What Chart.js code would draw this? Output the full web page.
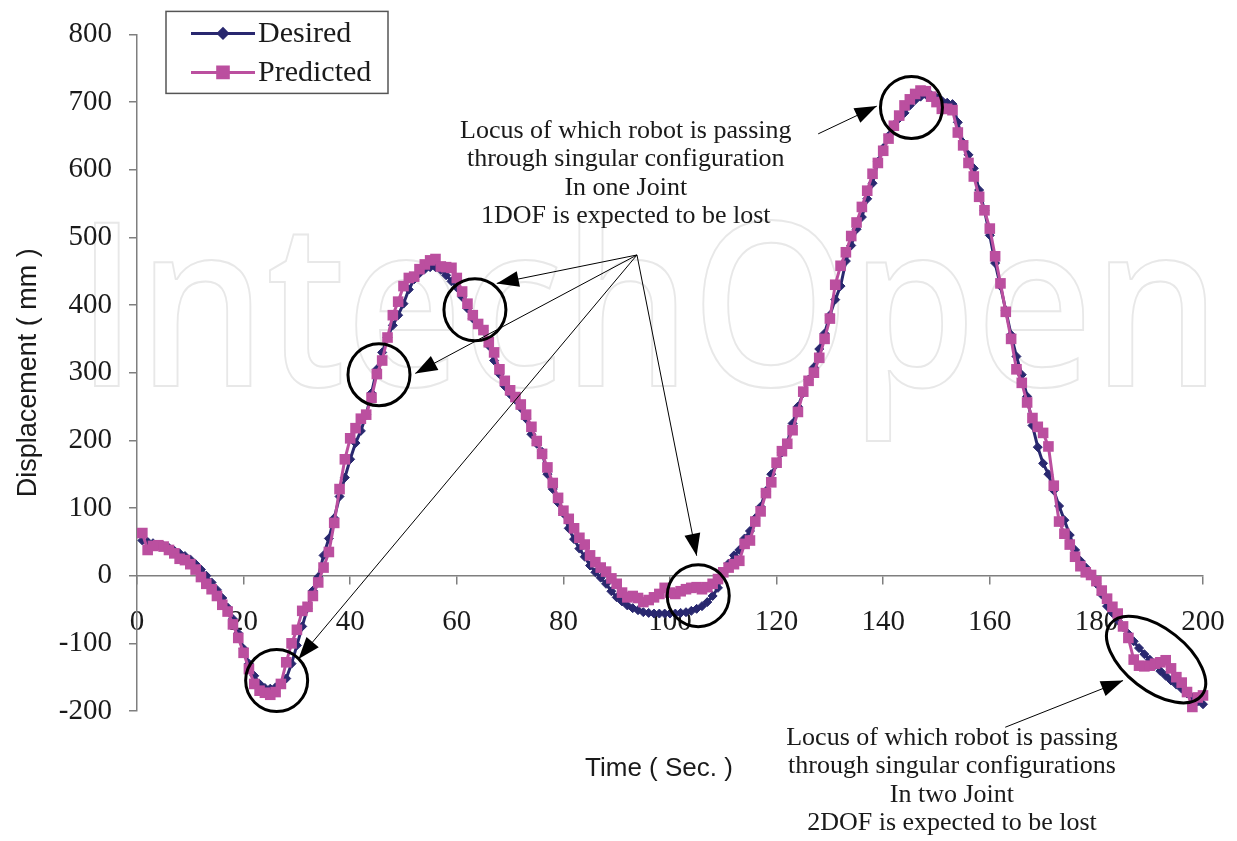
<!DOCTYPE html>
<html lang="en">
<head>
<meta charset="UTF-8">
<title>Displacement - Desired vs Predicted</title>
<script src="https://cdn.jsdelivr.net/npm/chart.js@4.4.0/dist/chart.umd.min.js"></script>
<style>
  html, body { margin: 0; padding: 0; background: #fff; }
  #wrap { width: 1237px; height: 841px; position: relative; }
</style>
</head>
<body>
<div id="wrap"><canvas id="chart" width="1237" height="841"></canvas></div>
<script>
// time samples (sec.)
const TIME = [
  1, 2, 3, 4, 5, 6, 7, 8, 9, 10, 11, 12, 13, 14, 15, 16, 17, 18, 19, 20,
  21, 22, 23, 24, 25, 26, 27, 28, 29, 30, 31, 32, 33, 34, 35, 36, 37, 38, 39, 40,
  41, 42, 43, 44, 45, 46, 47, 48, 49, 50, 51, 52, 53, 54, 55, 56, 57, 58, 59, 60,
  61, 62, 63, 64, 65, 66, 67, 68, 69, 70, 71, 72, 73, 74, 75, 76, 77, 78, 79, 80,
  81, 82, 83, 84, 85, 86, 87, 88, 89, 90, 91, 92, 93, 94, 95, 96, 97, 98, 99, 100,
  101, 102, 103, 104, 105, 106, 107, 108, 109, 110, 111, 112, 113, 114, 115, 116, 117, 118, 119, 120,
  121, 122, 123, 124, 125, 126, 127, 128, 129, 130, 131, 132, 133, 134, 135, 136, 137, 138, 139, 140,
  141, 142, 143, 144, 145, 146, 147, 148, 149, 150, 151, 152, 153, 154, 155, 156, 157, 158, 159, 160,
  161, 162, 163, 164, 165, 166, 167, 168, 169, 170, 171, 172, 173, 174, 175, 176, 177, 178, 179, 180,
  181, 182, 183, 184, 185, 186, 187, 188, 189, 190, 191, 192, 193, 194, 195, 196, 197, 198, 199, 200
];

// displacement (mm)
const DESIRED = [
  52, 50, 48, 46, 44, 41, 37, 33, 29, 24,
  17, 9, 0, -10, -21, -33, -47, -64, -85, -108,
  -130, -148, -160, -166, -167, -165, -160, -152, -130, -103,
  -75, -48, -22, -2, 30, 55, 85, 117, 145, 172,
  196, 214, 238, 270, 305, 330, 352, 370, 385, 402,
  423, 438, 447, 453, 456, 456, 452, 444, 435, 426,
  412, 395, 380, 372, 362, 340, 318, 298, 280, 268,
  260, 248, 232, 209, 195, 183, 150, 128, 108, 92,
  70, 54, 40, 28, 15, 5, -3, -12, -23, -32,
  -38, -44, -48, -51, -54, -55, -56, -56, -56, -56,
  -56, -55, -54, -52, -49, -45, -39, -30, -18, 5,
  18, 30, 38, 55, 66, 85, 102, 125, 150, 165,
  182, 196, 225, 250, 270, 290, 308, 335, 358, 385,
  408, 428, 465, 488, 512, 530, 557, 580, 612, 632,
  650, 666, 676, 684, 695, 703, 708, 711, 710, 706,
  702, 699, 697, 670, 640, 622, 602, 570, 540, 503,
  462, 428, 392, 356, 324, 297, 265, 222, 190, 166,
  150, 126, 103, 82, 60, 38, 22, 12, 2, -12,
  -28, -45, -55, -66, -76, -86, -97, -107, -116, -124,
  -132, -141, -148, -155, -161, -167, -174, -180, -186, -190
];

const PREDICTED = [
  63, 38, 44, 45, 43, 38, 33, 25, 23, 17,
  9, -2, -12, -20, -30, -43, -53, -72, -92, -114,
  -138, -160, -170, -173, -176, -172, -160, -128, -100, -80,
  -52, -46, -30, -10, 12, 35, 78, 128, 172, 203,
  218, 232, 238, 263, 298, 318, 352, 385, 405, 428,
  440, 442, 453, 460, 466, 468, 457, 456, 455, 440,
  420, 402, 385, 372, 363, 345, 330, 305, 288, 274,
  264, 253, 238, 220, 199, 180, 160, 137, 115, 96,
  84, 70, 56, 46, 30, 20, 12, 6, -4, -12,
  -25, -32, -30, -33, -39, -36, -32, -27, -18, -25,
  -27, -23, -20, -18, -17, -20, -17, -12, -5, 5,
  12, 17, 22, 47, 52, 80, 95, 122, 138, 167,
  184, 195, 215, 242, 272, 288, 300, 322, 350, 380,
  430, 458, 478, 502, 522, 545, 569, 594, 610, 628,
  646, 665, 680, 695, 704, 712, 717, 716, 708, 700,
  690, 690, 688, 655, 636, 610, 590, 560, 540, 513,
  472, 432, 390, 350, 305, 285, 256, 233, 220, 211,
  191, 133, 80, 62, 46, 28, 14, 5, 1, -8,
  -22, -34, -46, -56, -75, -92, -124, -133, -134, -133,
  -130, -128, -125, -137, -150, -158, -172, -194, -180, -177
];

const SERIES_NAMES = ['Desired', 'Predicted'];
const X_TITLE = 'Time ( Sec. )';
const Y_TITLE = 'Displacement ( mm )';

// annotation anchors, in data units (time, mm)
const CIRCLES = [[26.2, -155], [45.4, 297], [63.4, 393], [105.3, -29.5], [145.3, 692]];
const ELLIPSE = [191.2, -124];
const HUB = [93.8, 474];
const HUB_TARGETS = [[67.5, 432], [52.2, 299], [30.3, -123], [105, 29.5]];
const ARROWS = [[[127.8, 653], [138.8, 694]], [[162.9, -224], [185, -155]]];
const NOTE_1 = ['Locus of which robot is passing', 'through singular configuration', 'In one Joint', '1DOF is expected to be lost'];
const NOTE_1_AT = [91.7, 657];
const NOTE_2 = ['Locus of which robot is passing', 'through singular configurations', 'In two Joint', '2DOF is expected to be lost'];
const NOTE_2_AT = [152.9, -240];

const NAVY = '#29286f';
const PINK = '#bb4f9f';
const SERIF = '"Liberation Serif", "Times New Roman", serif';
const SANS = '"Liberation Sans", Arial, sans-serif';

function arrow(ctx, x1, y1, x2, y2) {
  const a = Math.atan2(y2 - y1, x2 - x1);
  ctx.beginPath();
  ctx.moveTo(x1, y1);
  ctx.lineTo(x2, y2);
  ctx.stroke();
  const L = 22, W = 8;
  ctx.beginPath();
  ctx.moveTo(x2, y2);
  ctx.lineTo(x2 - L * Math.cos(a) + W * Math.sin(a), y2 - L * Math.sin(a) - W * Math.cos(a));
  ctx.lineTo(x2 - L * Math.cos(a) - W * Math.sin(a), y2 - L * Math.sin(a) + W * Math.cos(a));
  ctx.closePath();
  ctx.fill();
}

const extras = {
  id: 'extras',
  beforeDraw(chart) {
    // faint publisher watermark, behind everything
    const ctx = chart.ctx;
    ctx.save();
    ctx.font = '600 228px "Open Sans", sans-serif';
    ctx.strokeStyle = '#e8e8e8';
    ctx.lineWidth = 2;
    const w = ctx.measureText('IntechOpen').width;
    ctx.translate(76, 386);
    ctx.scale(1145 / w, 1);
    ctx.strokeText('IntechOpen', 0, 0);
    ctx.restore();
  },
  afterDraw(chart) {
    const ctx = chart.ctx;
    const xs = chart.scales.x, ys = chart.scales.y;
    const px = p => [xs.getPixelForValue(p[0]), ys.getPixelForValue(p[1])];
    const area = chart.chartArea;
    ctx.save();

    // circles
    ctx.strokeStyle = '#000';
    ctx.lineWidth = 3;
    CIRCLES.forEach(c => {
      const [x, y] = px(c);
      ctx.beginPath();
      ctx.arc(x, y, 31, 0, Math.PI * 2);
      ctx.stroke();
    });
    const [ex, ey] = px(ELLIPSE);
    ctx.beginPath();
    ctx.ellipse(ex, ey, 58, 31, 38 * Math.PI / 180, 0, Math.PI * 2);
    ctx.stroke();

    // arrows
    ctx.lineWidth = 1;
    ctx.fillStyle = '#000';
    const [hx, hy] = px(HUB);
    HUB_TARGETS.forEach(t => {
      const [tx, ty] = px(t);
      arrow(ctx, hx, hy, tx, ty);
    });
    ARROWS.forEach(a => {
      const [x1, y1] = px(a[0]);
      const [x2, y2] = px(a[1]);
      arrow(ctx, x1, y1, x2, y2);
    });

    // notes
    ctx.font = '26px ' + SERIF;
    ctx.fillStyle = '#1a1a1a';
    ctx.textAlign = 'center';
    ctx.textBaseline = 'middle';
    [[NOTE_1, NOTE_1_AT], [NOTE_2, NOTE_2_AT]].forEach(([lines, at]) => {
      const [nx, ny] = px(at);
      lines.forEach((s, i) => ctx.fillText(s, nx, ny + i * 28.5));
    });

    // x axis title
    ctx.font = '26px ' + SANS;
    ctx.fillText(X_TITLE, (area.left + area.right) / 2 - 11, area.bottom + 58);

    // legend box
    const lx = area.left + 29, ly = area.top - 23;
    ctx.strokeStyle = '#555';
    ctx.lineWidth = 1.5;
    ctx.strokeRect(lx, ly, 222, 82);
    const items = [[NAVY, 'rectRot', 4.5], [PINK, 'rect', 7.5]];
    items.forEach(([col, style, r], i) => {
      const y = ly + 22 + i * 39;
      ctx.strokeStyle = col;
      ctx.fillStyle = col;
      ctx.lineWidth = 3;
      ctx.beginPath();
      ctx.moveTo(lx + 25, y);
      ctx.lineTo(lx + 89, y);
      ctx.stroke();
      Chart.helpers.drawPoint(ctx, { pointStyle: style, radius: r, borderWidth: 1 }, lx + 57, y);
      ctx.fillStyle = '#1a1a1a';
      ctx.textAlign = 'left';
      ctx.font = '30px ' + SERIF;
      ctx.fillText(SERIES_NAMES[i], lx + 92, y + 1);
    });
    ctx.restore();
  }
};

const toPoints = vals => TIME.map((t, i) => ({ x: t, y: vals[i] }));

new Chart(document.getElementById('chart'), {
  type: 'line',
  data: {
    datasets: [
      {
        label: SERIES_NAMES[0],
        data: toPoints(DESIRED),
        borderColor: NAVY,
        backgroundColor: NAVY,
        borderWidth: 3,
        pointStyle: 'rectRot',
        pointRadius: 4.5,
        pointBorderWidth: 1,
        tension: 0,
        clip: false,
        order: 1
      },
      {
        label: SERIES_NAMES[1],
        data: toPoints(PREDICTED),
        borderColor: PINK,
        backgroundColor: PINK,
        borderWidth: 3,
        pointStyle: 'rect',
        pointRadius: 7.5,
        pointBorderWidth: 0,
        tension: 0,
        clip: false,
        order: 0
      }
    ]
  },
  options: {
    responsive: false,
    animation: false,
    events: [],
    layout: { padding: { left: 0, right: 34, top: 32, bottom: 130 } },
    plugins: { legend: { display: false }, tooltip: { enabled: false } },
    scales: {
      x: {
        type: 'linear',
        position: { y: 0 },
        min: 0, max: 200,
        afterFit: s => { s.height = 0; s.paddingRight = 0; s.paddingLeft = 0; },
        ticks: {
          stepSize: 20, autoSkip: false, maxRotation: 0, padding: 21,
          color: '#1a1a1a', font: { family: SERIF, size: 29 }
        },
        grid: { drawOnChartArea: false, drawTicks: true, tickLength: 8, color: '#7f7f7f', lineWidth: 1.5 },
        border: { color: '#7f7f7f', width: 1.5 }
      },
      y: {
        min: -200, max: 800,
        afterFit: s => { s.width = 137; },
        ticks: {
          stepSize: 100, padding: 17,
          color: '#1a1a1a', font: { family: SERIF, size: 29 }
        },
        title: {
          display: true, text: Y_TITLE, color: '#1a1a1a',
          font: { family: SANS, size: 27 }, padding: { top: 12, bottom: 0 }
        },
        grid: { drawOnChartArea: false, drawTicks: true, tickLength: 8, color: '#7f7f7f', lineWidth: 1.5 },
        border: { color: '#7f7f7f', width: 1.5 }
      }
    }
  },
  plugins: [extras]
});
</script>
</body>
</html>
